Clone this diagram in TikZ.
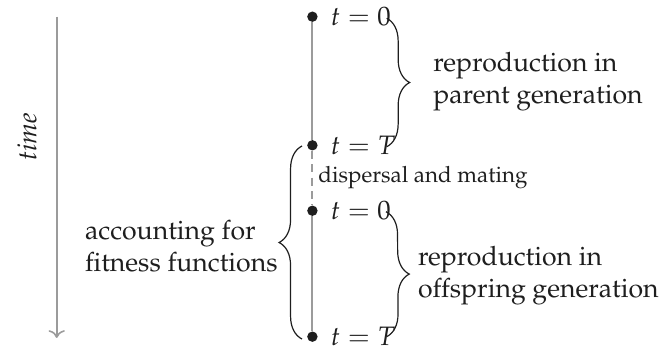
\documentclass[tikz,border=0pt]{standalone}
\usepackage[T1]{fontenc}
\usepackage{mathpazo}
\usepackage{xcolor}
\usepackage{tikz}
\usetikzlibrary{decorations.pathreplacing, arrows.meta, positioning, calc}
\definecolor{linegray}{RGB}{155, 155, 155}
\definecolor{textdark}{RGB}{30, 30, 30}

\begin{document}
\begin{tikzpicture}[
    font=\normalsize,
    text=textdark,
    % Styles
    event/.style={circle, fill=textdark, inner sep=0pt, minimum size=3.9pt},
    tlabel/.style={inner sep=3.33pt},
    phase/.style={draw=textdark, line width=0.45pt, decorate, decoration={brace, amplitude=8.6pt}},
    phasetext/.style={align=left, inner sep=3.33pt},
    timeline/.style={linegray, line width=0.75pt}
]
    \useasboundingbox (0,0) rectangle (8.77,-4.629);

    % Events on the time line
    \node (d1) [event] at (4.12,-0.22) {};
    \node (d2) [event] at (4.12,-1.916) {};
    \node (d3) [event] at (4.12,-2.779) {};
    \node (d4) [event] at (4.12,-4.44) {};

    \node (t1) [tlabel, right=1.2pt of d1] {$t=0$};
    \node (t2) [tlabel, right=1.2pt of d2] {$t=T$};
    \node (t3) [tlabel, right=1.2pt of d3] {$t=0$};
    \node (t4) [tlabel, right=1.2pt of d4] {$t=T$};

    % Time line
    \draw [timeline] (d1) -- (d2);
    \draw [timeline, densely dashed] (d2) -- (d3);
    \draw [timeline] (d3) -- (d4);

    \node (mating) [phasetext, anchor=west, font=\fontsize{8.4}{10}\selectfont] at (4.075,-2.347) {dispersal and mating};

    % Time arrow
    \coordinate (tstart) at (0.748,-0.22);
    \coordinate (tend) at (0.748,-4.457);
    \draw [->, linegray, line width=0.6pt] (tstart) -- (tend);
    \node (time) [rotate=90] at (0.356,-1.807) {\itshape time};

    % Parent generation
    \coordinate (p1) at (5.10,-0.241);
    \coordinate (p2) at (5.10,-1.935);
    \draw [phase] (p1) -- (p2);
    \node (parent) [phasetext] at (7.095,-1.081) {reproduction in\\parent generation};

    % Offspring generation
    \coordinate (o1) at (5.09,-2.792);
    \coordinate (o2) at (5.10,-4.44);
    \draw [phase] (o1) -- (o2);
    \node (offspring) [phasetext] at (7.10,-3.64) {reproduction in\\offspring generation};

    % Fitness functions
    \coordinate (f1) at (3.983,-4.471);
    \coordinate (f2) at (3.983,-1.925);
    \draw [phase] (f1) -- (f2);
    \node (fitness) [phasetext, anchor=east] at (3.785,-3.244) {accounting for\\fitness functions};

\end{tikzpicture}
\end{document}
